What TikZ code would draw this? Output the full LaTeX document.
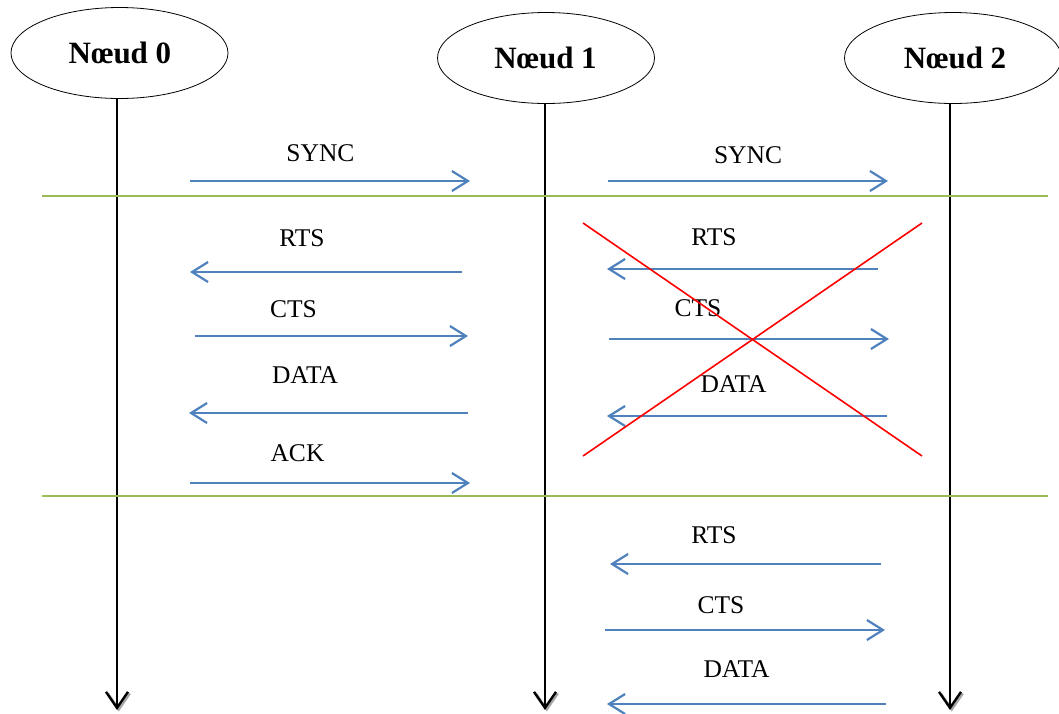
\documentclass[tikz,border=0pt]{standalone}
\usepackage{fontspec}
\setmainfont{Liberation Serif}
\usetikzlibrary{arrows.meta,shapes.geometric,calc}
\definecolor{msgblue}{HTML}{4F81BD}
\definecolor{sepgreen}{HTML}{9BBB59}
\definecolor{crossred}{HTML}{FF0000}
\begin{document}
\begin{tikzpicture}[x=1pt,y=-1pt,
  station/.style={ellipse,draw=black,line width=0.8pt,minimum width=217pt,minimum height=91pt,
    inner sep=0pt,font=\fontsize{31}{34}\selectfont\bfseries},
  lifeline/.style={draw=black,line width=2.4pt,-{Straight Barb[length=16pt,width=22pt,line width=2.4pt]}},
  tipshadow/.style={draw=black!35,line width=2.4pt,-{Straight Barb[length=16pt,width=22pt,line width=2.4pt]}},
  msg/.style={draw=msgblue,line width=2.6pt,-{Straight Barb[length=16pt,width=20pt,line width=2.2pt]}},
  msglabel/.style={anchor=base,inner sep=0pt,font=\fontsize{25.5}{28}\selectfont},
  separator/.style={draw=sepgreen,line width=1.6pt},
  cross/.style={draw=crossred,line width=1.6pt}]
\useasboundingbox (0,0) rectangle (1059,713);

% stations
\node[station] (n0) at (119.5,53) {};
\node[station] (n1) at (546,58) {};
\node[station] (n2) at (953,58) {};
\node[msglabel,font=\fontsize{31}{34}\selectfont\bfseries] (t0) at (120,63.5) {Nœud 0};
\node[msglabel,font=\fontsize{31}{34}\selectfont\bfseries] (t1) at (545.5,68.5) {Nœud 1};
\node[msglabel,font=\fontsize{31}{34}\selectfont\bfseries] (t2) at (955,68.5) {Nœud 2};

% lifeline ends
\coordinate (e0) at (117,710);
\coordinate (e1) at (545,710);
\coordinate (e2) at (950,710);
\foreach \e in {e0,e1,e2}{
  \draw[tipshadow] ($(\e)+(1.8,-3)$) -- ($(\e)+(1.8,1.5)$);
}
\draw[lifeline] (n0.south -| e0) -- (e0);
\draw[lifeline] (n1.south -| e1) -- (e1);
\draw[lifeline] (n2.south -| e2) -- (e2);

% phase separators
\coordinate (g1a) at (42,196);  \coordinate (g1b) at (1048,196);
\coordinate (g2a) at (42,496);  \coordinate (g2b) at (1048,496);
\draw[separator] (g1a) -- (g1b);
\draw[separator] (g2a) -- (g2b);

% synchronisation
\coordinate (s1a) at (190,181); \coordinate (s1b) at (470,181);
\coordinate (s2a) at (608,181); \coordinate (s2b) at (888,181);
\draw[msg] (s1a) -- (s1b);
\draw[msg] (s2a) -- (s2b);
\node[msglabel] (ls1) at (320.5,161) {SYNC};
\node[msglabel] (ls2) at (748,163) {SYNC};

% exchange between nodes 0 and 1
\coordinate (r1a) at (462,272); \coordinate (r1b) at (190,272);
\coordinate (c1a) at (195,336); \coordinate (c1b) at (468,336);
\coordinate (d1a) at (468,413); \coordinate (d1b) at (189,413);
\coordinate (k1a) at (190,483); \coordinate (k1b) at (470,483);
\draw[msg] (r1a) -- (r1b);
\draw[msg] (c1a) -- (c1b);
\draw[msg] (d1a) -- (d1b);
\draw[msg] (k1a) -- (k1b);
\node[msglabel] (lr1) at (302,246) {RTS};
\node[msglabel] (lc1) at (293.5,317) {CTS};
\node[msglabel] (ld1) at (305,383) {DATA};
\node[msglabel] (lk1) at (297.5,461) {ACK};

% cancelled exchange between nodes 1 and 2
\coordinate (r2a) at (878,269); \coordinate (r2b) at (607,269);
\coordinate (c2a) at (609,339); \coordinate (c2b) at (889,339);
\coordinate (d2a) at (887,416); \coordinate (d2b) at (607,416);
\draw[msg] (r2a) -- (r2b);
\draw[msg] (c2a) -- (c2b);
\draw[msg] (d2a) -- (d2b);
\node[msglabel] (lr2) at (714,245) {RTS};
\node[msglabel] (lc2) at (698,316) {CTS};
\node[msglabel] (ld2) at (733.5,392) {DATA};
\coordinate (x1) at (583,223); \coordinate (x2) at (922,456);
\coordinate (x3) at (583,456); \coordinate (x4) at (922,223);
\draw[cross] (x1) -- (x2);
\draw[cross] (x3) -- (x4);

% next exchange between nodes 1 and 2
\coordinate (r3a) at (881,564); \coordinate (r3b) at (610,564);
\coordinate (c3a) at (605,630); \coordinate (c3b) at (885,630);
\coordinate (d3a) at (886,704); \coordinate (d3b) at (607,704);
\draw[msg] (r3a) -- (r3b);
\draw[msg] (c3a) -- (c3b);
\draw[msg] (d3a) -- (d3b);
\node[msglabel] (lr3) at (714,543) {RTS};
\node[msglabel] (lc3) at (721,613) {CTS};
\node[msglabel] (ld3) at (736.5,677) {DATA};
\end{tikzpicture}
\end{document}
